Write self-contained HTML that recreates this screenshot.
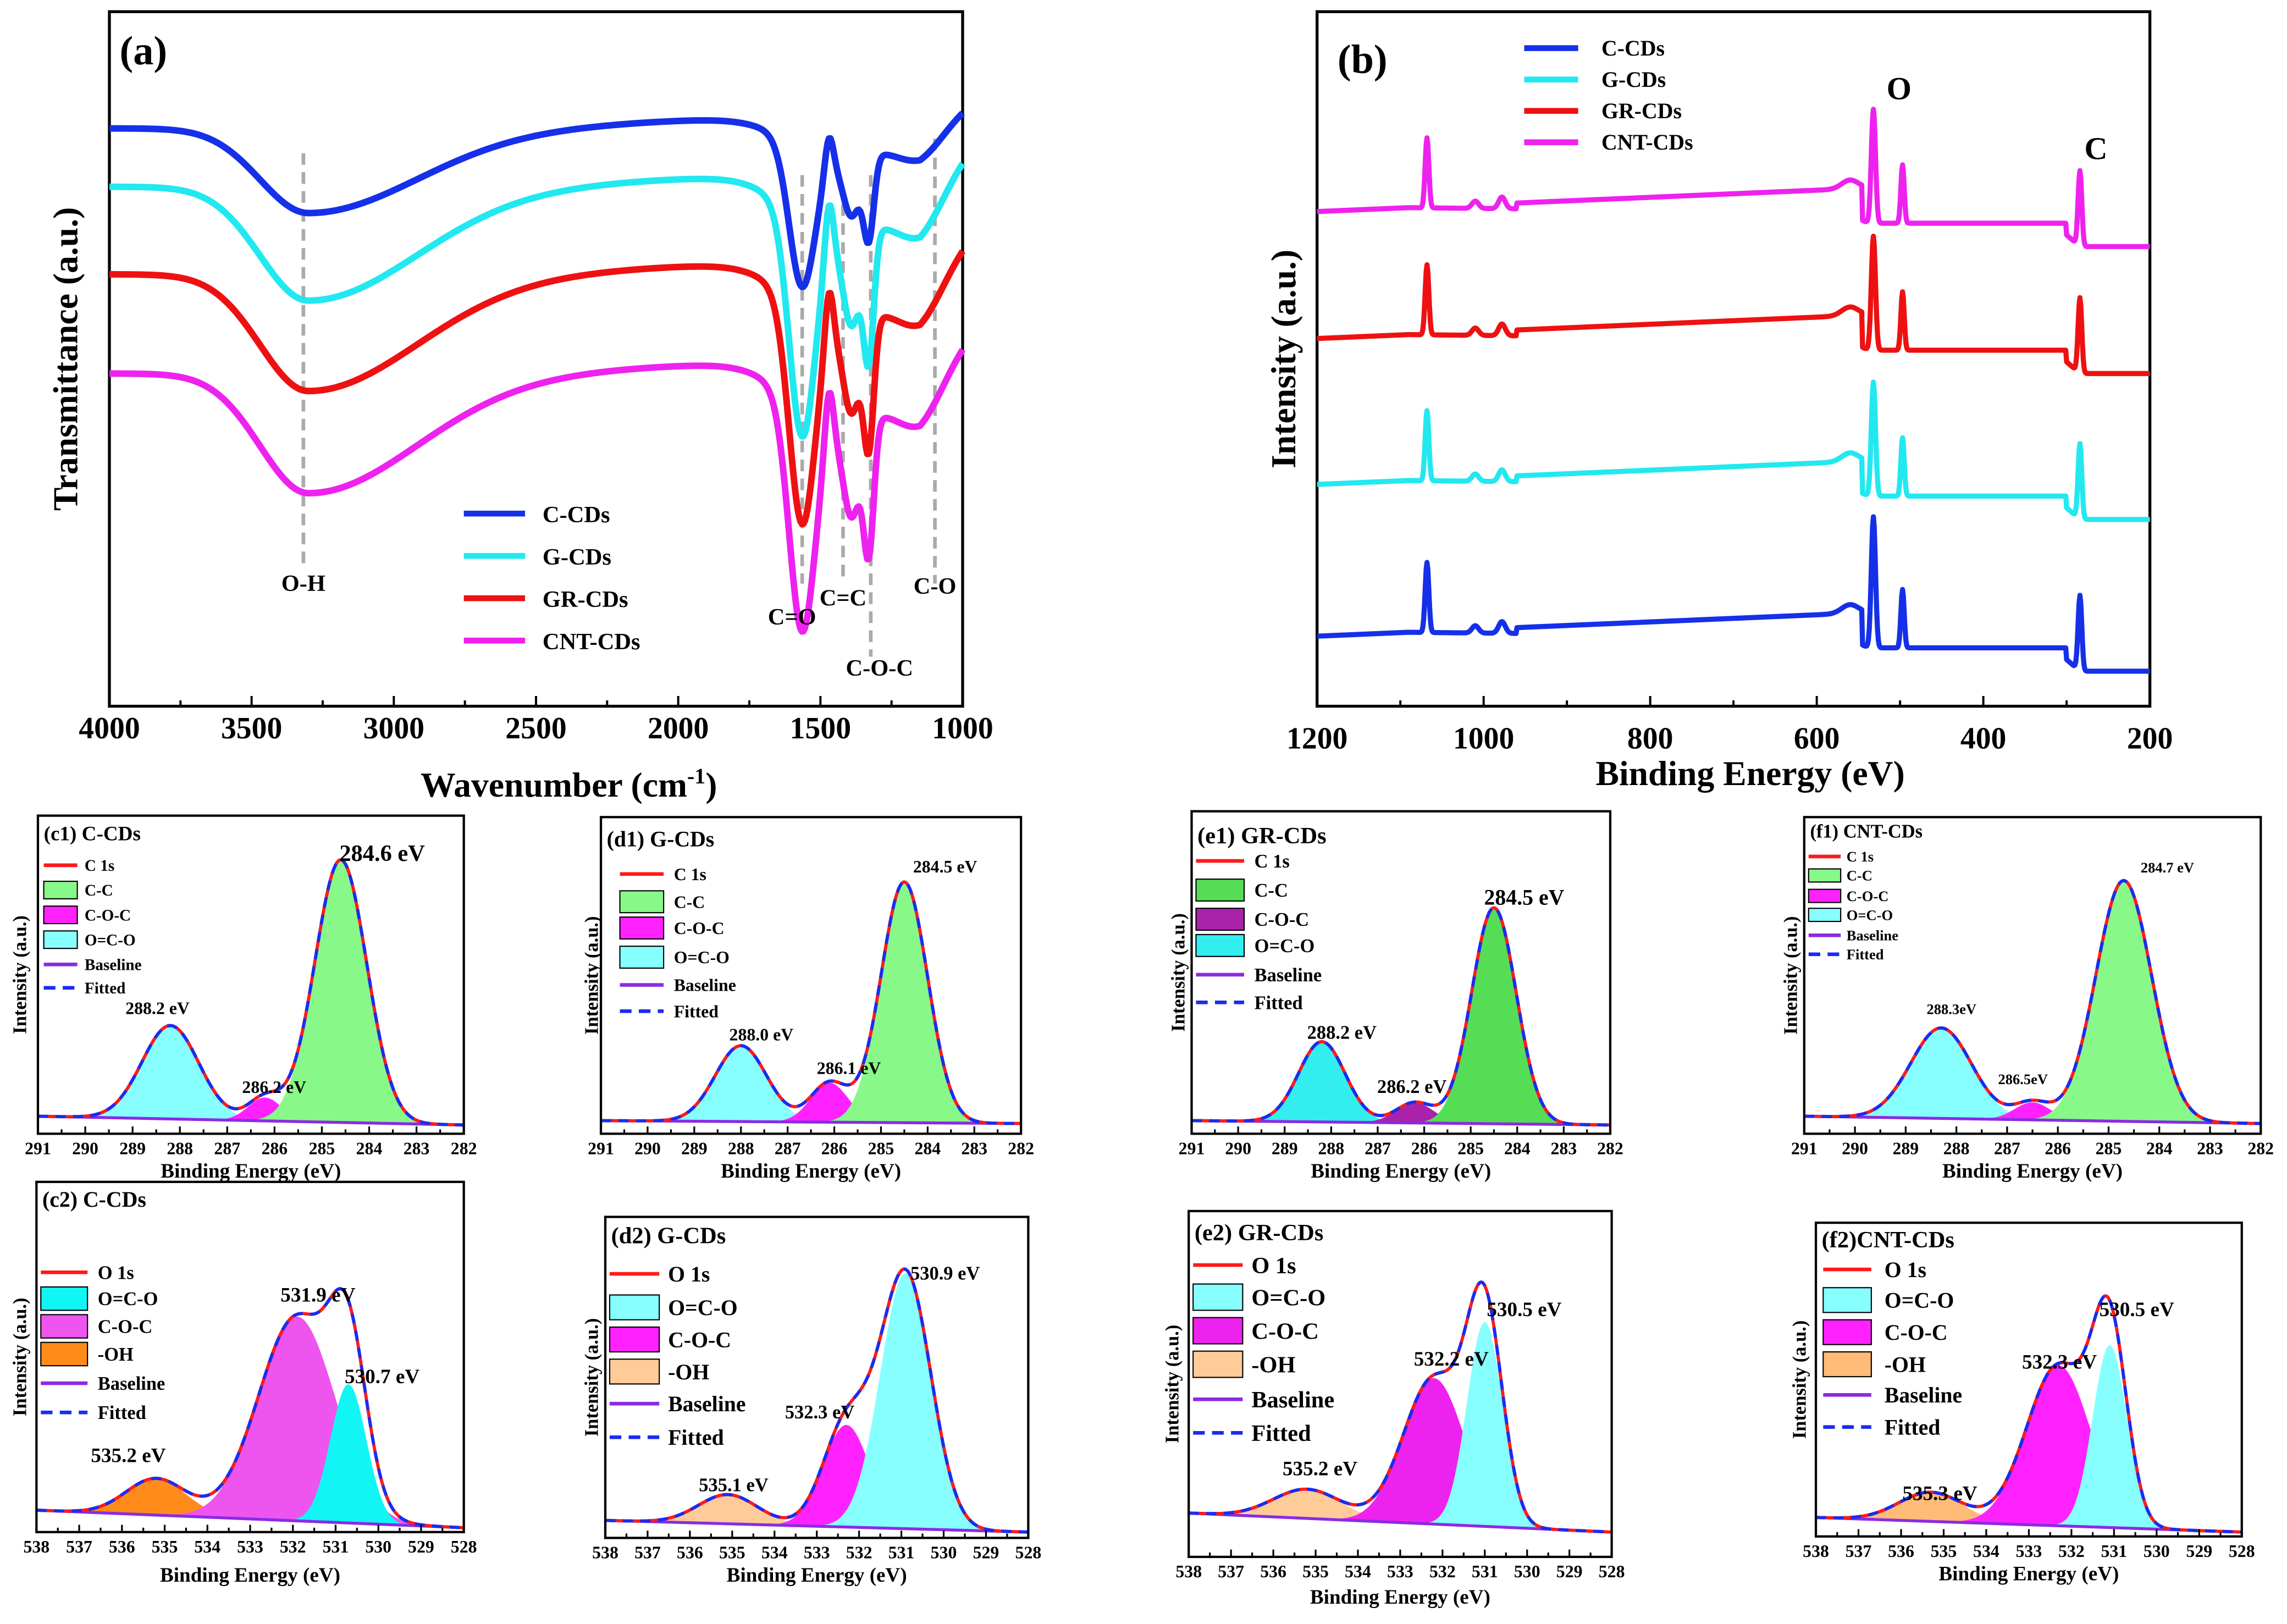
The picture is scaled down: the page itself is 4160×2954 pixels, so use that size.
<!DOCTYPE html>
<html><head><meta charset="utf-8"><style>
html,body{margin:0;padding:0;background:#fff}
svg{display:block}
text{font-family:"Liberation Serif",serif;font-weight:bold}
</style></head><body>
<svg id="s" xmlns="http://www.w3.org/2000/svg" width="4160" height="2954" viewBox="0 0 1568 1113" preserveAspectRatio="none"></svg>
<script>
const S=document.getElementById('s');const NS='http://www.w3.org/2000/svg';
function el(t,a,tx,p){const e=document.createElementNS(NS,t);for(const k in a)e.setAttribute(k,a[k]);if(tx!==undefined)e.textContent=tx;(p||S).appendChild(e);return e;}
function txt(s,x,y,fs,o){o=o||{};const a={x:x,y:y,'font-size':fs,fill:o.fill||'#000'};if(o.anchor)a['text-anchor']=o.anchor;if(o.rot)a.transform='rotate(-90 '+x+' '+y+')';return el('text',a,s);}
function G(x,c,s){return Math.exp(-0.5*((x-c)/s)**2);}
function pts(a){return a.map(p=>p[0].toFixed(2)+','+p[1].toFixed(2)).join(' ');}
function frame(x0,y0,x1,y1,w){el('rect',{x:x0,y:y0,width:x1-x0,height:y1-y0,fill:'none',stroke:'#000','stroke-width':w||1.5});}

// ---------- Panel (a) ----------
(function(){
const x0=75,x1=660,y0=8,y1=484;
const X=w=>x0+(4000-w)/3000*(x1-x0);
frame(x0,y0,x1,y1,2);
for(let w=4000;w>=1000;w-=500){const x=X(w);el('line',{x1:x,y1:y1,x2:x,y2:y1-7,stroke:'#000','stroke-width':1.5});txt(String(w),x,506,21,{anchor:'middle'});}
for(let w=3750;w>1000;w-=500){const x=X(w);el('line',{x1:x,y1:y1,x2:x,y2:y1-4,stroke:'#000','stroke-width':1.5});}
el('text',{x:390,y:546,'font-size':24,'text-anchor':'middle'}).innerHTML='Wavenumber (cm<tspan dy="-9" font-size="15">-1</tspan><tspan dy="9">)</tspan>';
txt('Transmittance (a.u.)',53,246,24,{anchor:'middle',rot:1});
[[208,105,390],[550,120,400],[578,140,400],[597,120,450],[641,95,400]].forEach(d=>el('line',{x1:d[0],y1:d[1],x2:d[0],y2:d[2],stroke:'#aaa','stroke-width':2.5,'stroke-dasharray':'8,5'}));
const curves=[['#1530e8',88,1.0,58],['#22e8f0',128,1.55,78],['#ee1111',188,1.55,80],['#ee22ee',256,1.6,82]];
curves.forEach(c=>{const [col,b,f,oh]=c;const p=[];
 for(let w=4000;w>=1000;w-=5){let y=b;
  const sOH=w>3300?170:380; y+=oh*G(w,3300,sOH);
  y+= -6*G(w,1800,400);
  y+=f*(95*G(w,1565,45)+40*G(w,1390,30)+55*G(w,1330,18)+25*G(w,1450,150)+20*G(w,1150,90));
  y-=f*25*G(w,1470,15);
  if(w<1150)y+=-(1150-w)*0.1*f;
  p.push([X(w),y]);}
 el('polyline',{points:pts(p),fill:'none',stroke:col,'stroke-width':4.5,'stroke-linejoin':'round'});});
const lg=[['#1530e8','C-CDs'],['#22e8f0','G-CDs'],['#ee1111','GR-CDs'],['#ee22ee','CNT-CDs']];
lg.forEach((l,i)=>{const y=352+i*29;el('line',{x1:318,y1:y,x2:360,y2:y,stroke:l[0],'stroke-width':4});txt(l[1],372,y+6,16);});
txt('O-H',208,405,16,{anchor:'middle'});txt('C=O',543,428,16,{anchor:'middle'});txt('C=C',578,415,16,{anchor:'middle'});txt('C-O-C',603,463,16,{anchor:'middle'});txt('C-O',641,407,16,{anchor:'middle'});
txt('(a)',82,44,28);
})();

// ---------- Panel (b) ----------
(function(){
const x0=903,x1=1474,y0=8,y1=484;
const X=E=>x0+(1200-E)/1000*(x1-x0);
frame(x0,y0,x1,y1,2);
for(let E=1200;E>=200;E-=200){const x=X(E);el('line',{x1:x,y1:y1,x2:x,y2:y1-7,stroke:'#000','stroke-width':1.5});txt(String(E),x,513,21,{anchor:'middle'});}
for(let E=1100;E>200;E-=200){const x=X(E);el('line',{x1:x,y1:y1,x2:x,y2:y1-4,stroke:'#000','stroke-width':1.5});}
txt('Binding Energy (eV)',1200,538,24,{anchor:'middle'});
txt('Intensity (a.u.)',888,246,24,{anchor:'middle',rot:1});
const cs=[['#ee22ee',145,1],['#ee1111',232,1],['#22e8f0',332,1],['#1530e8',436,1.15]];
cs.forEach(c=>{const [col,b,f]=c;const p=[];
 for(let E=1200;E>=200;E-=1){let y=b;
  if(E>545)y+=-(1200-E)/655*16; else if(E>300)y+=8; else y+=24;
  if(E<=300&&E>285)y=b+16+ (300-E)*0.5;
  y-=48*G(E,1068,2.2)+5*G(E,1010,4)+8*G(E,978,4)+6*G(E,560,10);
  y-=78*f*G(E,532,2.5)+40*G(E,497,2)+52*G(E,284,2.2);
  if(E>960&&E<1090)y+=4*((1090-E)/130);
  p.push([X(E),y]);}
 el('polyline',{points:pts(p),fill:'none',stroke:col,'stroke-width':3.5,'stroke-linejoin':'round'});});
const lg=[['#1530e8','C-CDs'],['#22e8f0','G-CDs'],['#ee1111','GR-CDs'],['#ee22ee','CNT-CDs']];
lg.forEach((l,i)=>{const y=33+i*21.5;el('line',{x1:1045,y1:y,x2:1082,y2:y,stroke:l[0],'stroke-width':4});txt(l[1],1098,y+5,15);});
txt('O',1302,68,22,{anchor:'middle'});txt('C',1437,109,22,{anchor:'middle'});
txt('(b)',917,50,28);
})();

// ---------- Small panels ----------
function P(c){
 const {x0,y0,x1,y1,E0,E1}=c;const X=E=>x0+(E0-E)/(E0-E1)*(x1-x0);
 const BL=E=>c.bl[0]+(c.bl[1]-c.bl[0])*(E0-E)/(E0-E1);
 const step=(E0-E1)/400;
 c.peaks.forEach(pk=>{const top=[],bot=[];
  for(let E=E0;E>=E1-1e-9;E-=step){const g=pk[1]*G(E,pk[0],pk[2]);if(g<0.3)continue;top.push([X(E),BL(E)-g]);bot.unshift([X(E),BL(E)]);}
  el('polygon',{points:pts(top.concat(bot)),fill:pk[3],stroke:'none'});});
 const base=[],sum=[];
 for(let E=E0;E>=E1-1e-9;E-=step){let s=0;c.peaks.forEach(pk=>s+=pk[1]*G(E,pk[0],pk[2]));base.push([X(E),BL(E)]);sum.push([X(E),BL(E)-s]);}
 el('polyline',{points:pts(base),fill:'none',stroke:'#8a2be2','stroke-width':2});
 el('polyline',{points:pts(sum),fill:'none',stroke:'#ff1a1a','stroke-width':2.2});
 el('polyline',{points:pts(sum),fill:'none',stroke:'#1a2cf0','stroke-width':2.2,'stroke-dasharray':'7,5'});
 frame(x0,y0,x1,y1,1.6);
 const tfs=c.tfs||12;
 for(let E=E0;E>=E1;E-=1){const x=X(E);el('line',{x1:x,y1:y1,x2:x,y2:y1-5,stroke:'#000','stroke-width':1.2});txt(String(E),x,y1+14,tfs,{anchor:'middle'});
  if(E>E1){const xm=X(E-0.5);el('line',{x1:xm,y1:y1,x2:xm,y2:y1-3,stroke:'#000','stroke-width':1.2});}}
 txt('Binding Energy (eV)',(x0+x1)/2,y1+c.xl,c.xfs||14,{anchor:'middle'});
 txt('Intensity (a.u.)',c.yx,(y0+y1)/2,c.yfs||13,{anchor:'middle',rot:1});
 txt(c.title,x0+4,y0+c.ty,c.tfs2||14);
 c.labels.forEach(l=>txt(l[0],l[1],l[2],l[3],{anchor:'middle'}));
 const L=c.leg;
 L.items.forEach((it,i)=>{const y=L.ys[i];const [tp,col,lab]=it;
  if(tp=='l')el('line',{x1:L.a,y1:y,x2:L.b,y2:y,stroke:col,'stroke-width':2.5});
  else if(tp=='d')el('line',{x1:L.a,y1:y,x2:L.b,y2:y,stroke:col,'stroke-width':2.5,'stroke-dasharray':'8,5'});
  else el('rect',{x:L.a,y:y-L.h/2,width:L.b-L.a,height:L.h,fill:col,stroke:'#000','stroke-width':0.8});
  txt(lab,L.t,y+L.fs*0.35,L.fs);});
}
const GR='#88f888',MG='#ff22ff',CY='#88ffff',PU='#8a2be2',RD='#ff1a1a',BU='#1a2cf0';
const Cit=(g,m,cy)=>[['l',RD,'C 1s'],['r',g,'C-C'],['r',m,'C-O-C'],['r',cy,'O=C-O'],['l',PU,'Baseline'],['d',BU,'Fitted']];
const Oit=(a,b,c2)=>[['l',RD,'O 1s'],['r',a,'O=C-O'],['r',b,'C-O-C'],['r',c2,'-OH'],['l',PU,'Baseline'],['d',BU,'Fitted']];
P({x0:26,y0:559,x1:318,y1:777,E0:291,E1:282,bl:[765,771],peaks:[[288.2,64,0.6,CY],[286.2,16,0.35,MG],[284.6,180,0.55,GR]],
 title:'(c1) C-CDs',ty:17,tfs2:14,xl:30,yx:18,labels:[['284.6 eV',262,590,16],['288.2 eV',108,695,12],['286.2 eV',188,749,12]],
 leg:{a:30,b:53,t:58,fs:11,h:12,ys:[593,610,627,644,661,677],items:Cit(GR,MG,CY)}});
P({x0:412,y0:560,x1:700,y1:777,E0:291,E1:282,bl:[768,770],peaks:[[288.0,52,0.55,CY],[286.1,27,0.4,MG],[284.5,165,0.5,GR]],
 title:'(d1) G-CDs',ty:20,tfs2:15,xl:30,yx:410,labels:[['284.5 eV',648,598,12],['288.0 eV',522,713,12],['286.1 eV',582,736,12]],
 leg:{a:425,b:455,t:462,fs:12,h:15,ys:[599,618,636,656,675,693],items:Cit(GR,MG,CY)}});
P({x0:817,y0:556,x1:1104,y1:777,E0:291,E1:282,bl:[768,771],peaks:[[288.2,55,0.5,'#33eeee'],[286.2,14,0.4,'#aa22aa'],[284.5,148,0.48,'#55dd55']],
 title:'(e1) GR-CDs',ty:22,tfs2:16,xl:30,yx:812,labels:[['284.5 eV',1045,620,15],['288.2 eV',920,712,13],['286.2 eV',968,749,13]],
 leg:{a:820,b:853,t:860,fs:13,h:15,ys:[590,610,630,648,668,687],items:Cit('#55dd55','#aa22aa','#33eeee')}});
P({x0:1237,y0:560,x1:1550,y1:777,E0:291,E1:282,bl:[765,770],peaks:[[288.3,62,0.6,CY],[286.5,12,0.35,MG],[284.7,165,0.55,GR]],
 title:'(f1) CNT-CDs',ty:14,tfs2:13,xl:30,yx:1232,labels:[['284.7 eV',1486,598,10],['288.3eV',1338,695,10],['286.5eV',1387,743,10]],
 leg:{a:1240,b:1262,t:1266,fs:10,h:9,ys:[587,600,614,627,641,654],items:Cit(GR,MG,CY)}});
P({x0:25,y0:810,x1:318,y1:1050,E0:538,E1:528,bl:[1035,1047],peaks:[[535.2,25,0.7,'#ff8c1a'],[531.9,140,0.9,'#ee55ee'],[530.7,95,0.42,'#11f5f5']],
 title:'(c2) C-CDs',ty:17,tfs2:15,xl:34,yx:18,labels:[['531.9 eV',218,892,14],['530.7 eV',262,948,14],['535.2 eV',88,1002,14]],
 leg:{a:28,b:60,t:67,fs:13,h:16,ys:[872,890,909,928,948,968],items:Oit('#11f5f5','#ee55ee','#ff8c1a')}});
P({x0:415,y0:834,x1:705,y1:1054,E0:538,E1:528,bl:[1042,1050],peaks:[[535.1,20,0.7,'#ffcc99'],[532.3,70,0.55,MG],[530.9,175,0.6,CY]],
 title:'(d2) G-CDs',ty:18,tfs2:16,xl:30,yx:410,labels:[['530.9 eV',648,877,13],['532.3 eV',562,972,13],['535.1 eV',503,1022,13]],
 leg:{a:418,b:452,t:458,fs:15,h:17,ys:[873,896,918,940,962,985],items:Oit(CY,MG,'#ffcc99')}});
P({x0:815,y0:830,x1:1105,y1:1067,E0:538,E1:528,bl:[1037,1050],peaks:[[535.2,20,0.8,'#ffcc99'],[532.2,100,0.72,'#ee22ee'],[531.0,140,0.42,CY]],
 title:'(e2) GR-CDs',ty:20,tfs2:16,xl:32,yx:808,labels:[['530.5 eV',1045,902,14],['532.2 eV',995,936,14],['535.2 eV',905,1011,14]],
 leg:{a:818,b:852,t:858,fs:16,h:18,ys:[867,889,912,935,959,982],items:Oit(CY,'#ee22ee','#ffcc99')}});
P({x0:1245,y0:838,x1:1537,y1:1053,E0:538,E1:528,bl:[1040,1050],peaks:[[535.3,20,0.75,'#ffbb77'],[532.3,110,0.75,MG],[531.1,125,0.4,CY]],
 title:'(f2)CNT-CDs',ty:17,tfs2:16,xl:30,yx:1238,labels:[['530.5 eV',1465,902,14],['532.3 eV',1412,938,14],['535.3 eV',1330,1028,14]],
 leg:{a:1250,b:1283,t:1292,fs:15,h:17,ys:[870,891,913,935,956,978],items:Oit(CY,MG,'#ffbb77')}});
</script>
</body></html>
